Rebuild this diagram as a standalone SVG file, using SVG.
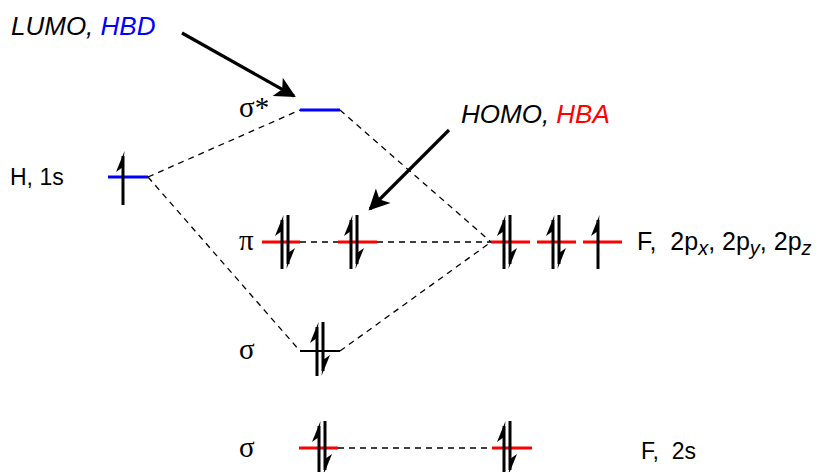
<svg xmlns="http://www.w3.org/2000/svg" width="822" height="472" viewBox="0 0 822 472">
<style>
.t{font-family:"Liberation Sans",Arial,sans-serif;font-size:23px;fill:#000;white-space:pre}
.it{font-style:italic;font-size:26px}
.big{font-size:25px}
.g{font-family:"Liberation Serif","Times New Roman",serif;font-size:29px;fill:#000}
.red{stroke:#ff0000;stroke-width:3;fill:none}
.blue{stroke:#0000ff;stroke-width:3;fill:none}
.blk{stroke:#000;stroke-width:2;fill:none}
.dash{stroke:#000;stroke-width:1.3;stroke-dasharray:6,5;fill:none}
.e{stroke:#000;stroke-width:3;fill:none}
.h{fill:#000;stroke:none}
.bigarrow{stroke:#000;stroke-width:3.2;fill:none}
.sub{font-style:italic;font-size:20px}
</style>
<defs>
<g id="up"><line class="e" x1="0" y1="27" x2="0" y2="-22"/><polygon class="h" points="1.5,-27 -7,-6 0,-11"/></g>
<g id="dn"><line class="e" x1="0" y1="-27" x2="0" y2="22"/><polygon class="h" points="-1.5,27 7,6 0,11"/></g>
<marker id="ah" viewBox="0 0 10 10" refX="9" refY="5" markerWidth="8" markerHeight="6.5" orient="auto" markerUnits="strokeWidth"><path d="M0,0 L10,5 L0,10 L2.5,5 z" fill="#000"/></marker>
</defs>
<g id="connectors">
<line class="dash" x1="148" y1="177" x2="300" y2="110"/>
<line class="dash" x1="148" y1="177" x2="300" y2="351"/>
<line class="dash" x1="340" y1="110" x2="491" y2="242"/>
<line class="dash" x1="340" y1="351" x2="491" y2="242"/>
<line class="dash" x1="300" y1="242" x2="338" y2="242"/>
<line class="dash" x1="377" y1="242" x2="491" y2="242"/>
<line class="dash" x1="338" y1="448" x2="492" y2="448"/>
<line class="bigarrow" x1="182" y1="33" x2="294" y2="96" marker-end="url(#ah)"/>
<line class="bigarrow" x1="449" y1="130" x2="370" y2="209" marker-end="url(#ah)"/>
</g>
<g id="labels-top">
<text class="t it" x="11" y="35">LUMO, <tspan fill="#0000ff">HBD</tspan></text>
<text class="t it" x="461" y="123">HOMO, <tspan fill="#ff0000">HBA</tspan></text>
</g>
<g id="sigma-star">
<text class="g" x="239" y="117">σ*</text>
<line class="blue" x1="300" y1="110" x2="340" y2="110"/>
</g>
<g id="h1s">
<text class="t" x="10" y="185">H, 1s</text>
<line class="blue" x1="108" y1="177" x2="148" y2="177"/>
<use href="#up" x="123" y="178"/>
</g>
<g id="pi-1">
<text class="g" x="239" y="250">π</text>
<line class="red" x1="262" y1="242" x2="300" y2="242"/>
<use href="#up" x="282" y="242"/>
<use href="#dn" x="288" y="242"/>
</g>
<g id="pi-2">
<line class="red" x1="338" y1="242" x2="377" y2="242"/>
<use href="#up" x="351" y="242"/>
<use href="#dn" x="357" y="242"/>
</g>
<g id="f2p">
<line class="red" x1="491" y1="242" x2="530" y2="242"/>
<use href="#up" x="504" y="242"/>
<use href="#dn" x="510" y="242"/>
<line class="red" x1="537" y1="242" x2="576" y2="242"/>
<use href="#up" x="553" y="242"/>
<use href="#dn" x="559" y="242"/>
<line class="red" x1="583" y1="242" x2="622" y2="242"/>
<use href="#up" x="598" y="242"/>
<text class="t big" x="637" y="250">F,  2p<tspan class="sub" dy="5">x</tspan><tspan dy="-5">, 2p</tspan><tspan class="sub" dy="5">y</tspan><tspan dy="-5">, 2p</tspan><tspan class="sub" dy="5">z</tspan></text>
</g>
<g id="sigma">
<text class="g" x="239" y="359">σ</text>
<line class="blk" x1="300" y1="351" x2="340" y2="351"/>
<use href="#up" x="317" y="349"/>
<use href="#dn" x="323" y="349"/>
</g>
<g id="sigma-2s">
<text class="g" x="239" y="457">σ</text>
<line class="red" x1="299" y1="448" x2="338" y2="448"/>
<use href="#up" x="319" y="448"/>
<use href="#dn" x="325" y="448"/>
</g>
<g id="f2s">
<line class="red" x1="492" y1="448" x2="532" y2="448"/>
<use href="#up" x="504" y="448"/>
<use href="#dn" x="510" y="448"/>
<text class="t" x="641" y="459">F,  2s</text>
</g>
</svg>
